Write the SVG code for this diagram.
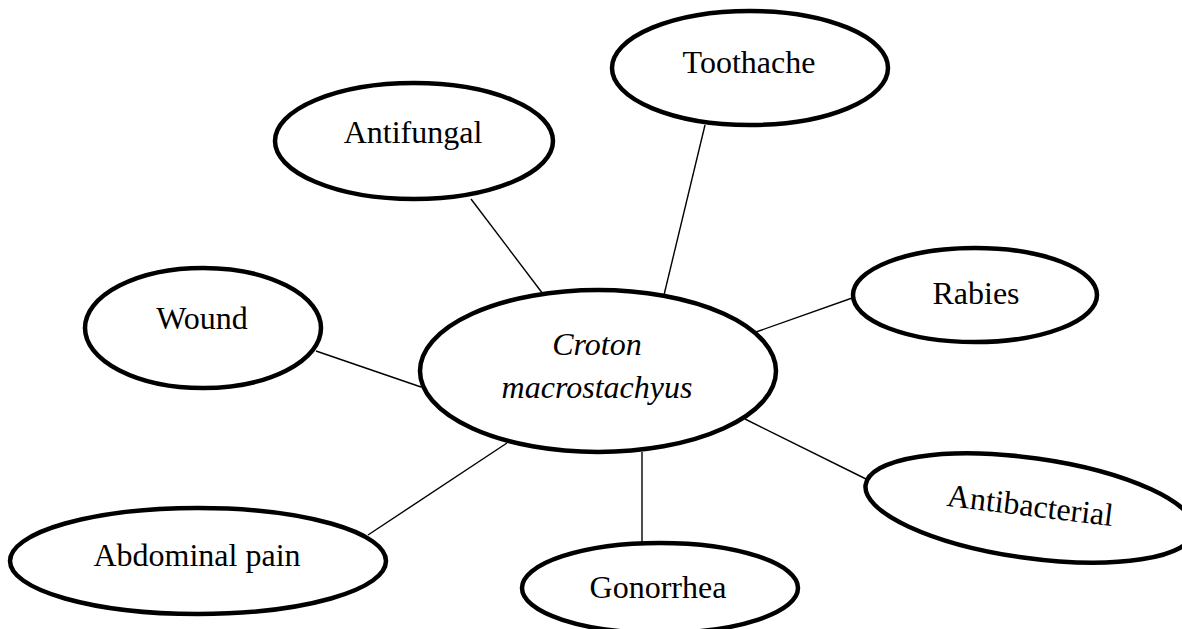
<svg xmlns="http://www.w3.org/2000/svg" width="1182" height="629" viewBox="0 0 1182 629">
<style>
.node ellipse{fill:#fff;stroke:#000;stroke-width:4.5}
.node text{font-family:"Liberation Serif","Times New Roman",serif;font-size:32px;fill:#000;text-anchor:middle}
.node text.it{font-style:italic}
#connectors line{stroke:#000;stroke-width:1.4}
</style>
<rect width="1182" height="629" fill="#fff"/>
<g id="connectors">
<line x1="471" y1="199" x2="543" y2="294"/>
<line x1="705" y1="125" x2="664" y2="295"/>
<line x1="855" y1="297" x2="756" y2="332"/>
<line x1="316" y1="351" x2="421" y2="387"/>
<line x1="368" y1="535" x2="507" y2="443"/>
<line x1="642" y1="452" x2="642" y2="543"/>
<line x1="745" y1="419" x2="866" y2="479"/>
</g>
<g id="toothache" class="node">
<ellipse cx="750" cy="68" rx="138" ry="57"/>
<text x="749" y="73">Toothache</text>
</g>
<g id="antifungal" class="node">
<ellipse cx="414" cy="141" rx="139" ry="58"/>
<text x="413" y="143">Antifungal</text>
</g>
<g id="wound" class="node">
<ellipse cx="203" cy="328" rx="118" ry="60"/>
<text x="202" y="329">Wound</text>
</g>
<g id="rabies" class="node">
<ellipse cx="975" cy="295" rx="122" ry="47"/>
<text x="976" y="304">Rabies</text>
</g>
<g id="center" class="node">
<ellipse cx="598" cy="371" rx="178" ry="81"/>
<text class="it" x="597" y="355">Croton</text>
<text class="it" x="597" y="398">macrostachyus</text>
</g>
<g id="abdominal" class="node">
<ellipse cx="198" cy="561" rx="188" ry="53"/>
<text x="197" y="566">Abdominal pain</text>
</g>
<g id="gonorrhea" class="node">
<ellipse cx="660" cy="588" rx="138" ry="45"/>
<text x="658" y="598">Gonorrhea</text>
</g>
<g id="antibacterial" class="node">
<ellipse cx="0" cy="0" rx="166" ry="50" transform="translate(1030 508) rotate(8)"/>
<text x="0" y="0" transform="translate(1029 516) rotate(7)">Antibacterial</text>
</g>
</svg>
